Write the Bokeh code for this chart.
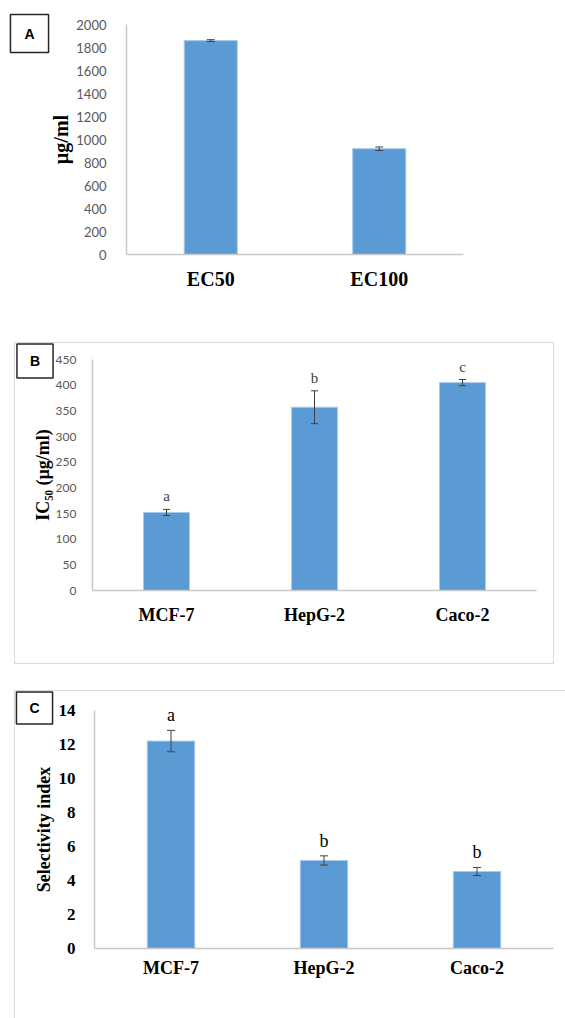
from bokeh.plotting import figure
from bokeh.models import (ColumnDataSource, FactorRange, Range1d, Whisker, TeeHead,
                          LabelSet, Label, SingleIntervalTicker)
from bokeh.layouts import column
from bokeh.embed import file_html
from bokeh.resources import INLINE

# ---------------- data ----------------
a_cats = ["EC50", "EC100"]
a_vals = [1860, 920]
a_errs = [8, 15]

b_cats = ["MCF-7", "HepG-2", "Caco-2"]
b_vals = [152, 357, 405]
b_errs = [6, 32, 6]
b_letters = ["a", "b", "c"]

c_cats = ["MCF-7", "HepG-2", "Caco-2"]
c_vals = [12.2, 5.18, 4.53]
c_errs = [0.63, 0.27, 0.24]
c_letters = ["a", "b", "b"]

BAR = "#5B9BD5"
BAR_EDGE = "#A9C9EA"
AXIS = "#C8C8C8"
TICKTXT = "#595959"
ERR = "#404040"
SERIF = "Liberation Serif"


def make_panel(cats, vals, errs, ymax, step, width, height, bl, br, bt, bb,
               bar_w, ylabel, ylabel_size, ylabel_standoff,
               ytick_font, ytick_size, ytick_style, ytick_color, ytick_standoff,
               xlab_size, xlab_standoff, head=7, margin=None, styles=None):
    kw = {}
    if margin is not None:
        kw["margin"] = margin
    if styles is not None:
        kw["styles"] = styles
    p = figure(width=width, height=height, x_range=FactorRange(factors=cats),
               y_range=Range1d(0, ymax), output_backend="svg", toolbar_location=None,
               min_border_left=bl, min_border_right=br, min_border_top=bt,
               min_border_bottom=bb, frame_align=False, **kw)
    p.outline_line_color = None
    p.xgrid.visible = False
    p.ygrid.visible = False
    p.background_fill_color = "white"
    p.border_fill_color = "white"

    upper = [v + e for v, e in zip(vals, errs)]
    lower = [v - e for v, e in zip(vals, errs)]
    src = ColumnDataSource(dict(x=cats, top=vals, upper=upper, lower=lower))
    p.vbar(x="x", top="top", width=bar_w, source=src, fill_color=BAR,
           line_color=BAR_EDGE, line_width=1)
    w = Whisker(source=src, base="x", upper="upper", lower="lower",
                dimension="height", line_color=ERR, line_width=1, level="overlay",
                upper_head=TeeHead(size=head, line_color=ERR, line_width=1),
                lower_head=TeeHead(size=head, line_color=ERR, line_width=1))
    p.add_layout(w)

    ya = p.yaxis[0]
    ya.ticker = SingleIntervalTicker(interval=step)
    ya.axis_line_color = AXIS
    ya.axis_line_width = 1.5
    ya.major_tick_line_color = None
    ya.minor_tick_line_color = None
    ya.major_tick_in = 0
    ya.major_tick_out = 0
    ya.major_label_standoff = ytick_standoff
    ya.major_label_text_font = ytick_font
    ya.major_label_text_font_size = ytick_size
    ya.major_label_text_font_style = ytick_style
    ya.major_label_text_color = ytick_color
    ya.axis_label = ylabel
    ya.axis_label_text_font = SERIF
    ya.axis_label_text_font_style = "bold"
    ya.axis_label_text_font_size = ylabel_size
    ya.axis_label_text_color = "black"
    ya.axis_label_standoff = ylabel_standoff

    xa = p.xaxis[0]
    xa.axis_line_color = AXIS
    xa.axis_line_width = 1.5
    xa.major_tick_line_color = None
    xa.minor_tick_line_color = None
    xa.major_tick_in = 0
    xa.major_tick_out = 0
    xa.major_label_standoff = xlab_standoff
    xa.major_label_text_font = SERIF
    xa.major_label_text_font_style = "bold"
    xa.major_label_text_font_size = xlab_size
    xa.major_label_text_color = "black"
    return p, src


def tag(p, cx, cy, letter, pad, side):
    lab = Label(x=cx, y=cy, x_units="canvas", y_units="canvas", text=letter,
                text_align="center", text_baseline="middle",
                text_font="Liberation Sans", text_font_style="bold",
                text_font_size="14px", text_color="black",
                border_line_color="#262626", border_line_width=1.5,
                background_fill_color="white", padding=pad)
    p.add_layout(lab, side)


# ---------------- Panel A ---------------- (page x 0..565, y 0..310)
pa, sa = make_panel(a_cats, a_vals, a_errs, 2000, 200, 565, 310, 126, 102, 24, 56,
                    0.315, "µg/ml", "20px", 1,
                    "Lato", "13px", "normal", TICKTXT, 16,
                    "20px", 13, head=8)
tag(pa, 29, 33, "A", dict(left=14, right=14, top=11, bottom=11), "left")

# ---------------- Panel B ---------------- (page x 15..553, y 343..663)
FRAME = {"outline": "1.5px solid #D9D9D9"}
pb, sb = make_panel(b_cats, b_vals, b_errs, 450, 50, 538, 320, 77, 17, 16, 73,
                    0.31, "IC₅₀ (µg/ml)", "18px", 0,
                    "Lato", "12px", "normal", TICKTXT, 12,
                    "18px", 14, margin=(33, 0, 0, 15), styles=FRAME)
sb.data["lab"] = b_letters
sb.data["ly"] = [v + e for v, e in zip(b_vals, b_errs)]
pb.add_layout(LabelSet(x="x", y="ly", text="lab", source=sb, y_offset=8,
                       text_align="center", text_baseline="alphabetic",
                       text_font="Lato", text_font_size="15px", text_color="#404040"))
tag(pb, 19.5, 17.5, "B", dict(left=13, right=13, top=9, bottom=9), "below")

# ---------------- Panel C ---------------- (page x 15..565, y 691..1018)
pc, sc = make_panel(c_cats, c_vals, c_errs, 14, 2, 550, 327, 79, 12, 19, 70,
                    0.31, "Selectivity index", "18px", 2,
                    SERIF, "17px", "bold", "black", 15,
                    "18px", 9, head=8, margin=(28, 0, 0, 15), styles=FRAME)
sc.data["lab"] = c_letters
sc.data["ly"] = [v + e for v, e in zip(c_vals, c_errs)]
pc.add_layout(LabelSet(x="x", y="ly", text="lab", source=sc, y_offset=9,
                       text_align="center", text_baseline="alphabetic",
                       text_font=SERIF, text_font_size="18px", text_color="black"))
tag(pc, 19, 16.5, "C", dict(left=13, right=13, top=8, bottom=8), "below")

layout = column(pa, pb, pc, spacing=0)
open("out.html", "w").write(file_html(layout, INLINE))
